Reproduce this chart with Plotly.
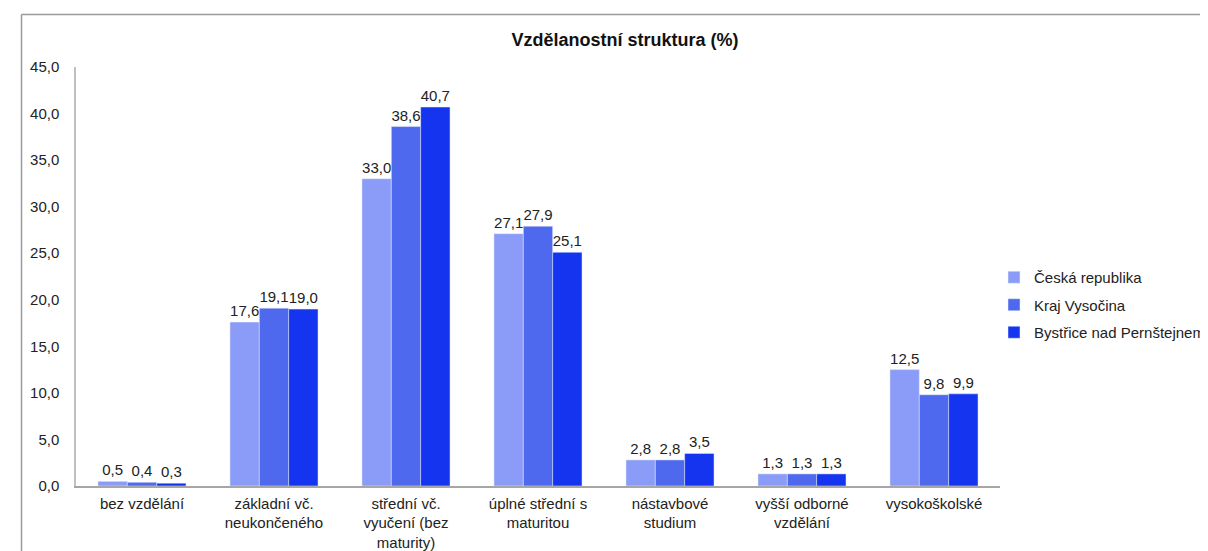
import plotly.graph_objects as go

categories = ["bez vzdělání", "základní vč.<br>neukončeného", "střední vč.<br>vyučení (bez<br>maturity)",
              "úplné střední s<br>maturitou", "nástavbové<br>studium", "vyšší odborné<br>vzdělání", "vysokoškolské"]
series_names = ["Česká republika", "Kraj Vysočina", "Bystřice nad Pernštejnem"]
ceska_republika = [0.5, 17.6, 33.0, 27.1, 2.8, 1.3, 12.5]
kraj_vysocina = [0.4, 19.1, 38.6, 27.9, 2.8, 1.3, 9.8]
bystrice = [0.3, 19.0, 40.7, 25.1, 3.5, 1.3, 9.9]
y_ticks = [0, 5, 10, 15, 20, 25, 30, 35, 40, 45]

colors = ["#8b9cf8", "#4f69ee", "#1534ef"]
font = "Liberation Sans, Arial, sans-serif"

def fmt(v):
    return f"{v:.1f}".replace(".", ",")

fig = go.Figure()
for name, vals, col in zip(series_names, [ceska_republika, kraj_vysocina, bystrice], colors):
    fig.add_trace(go.Bar(
        x=categories, y=vals, name=name, marker_color=col, legendgroup=name,
        text=[fmt(v) for v in vals], textposition="outside",
        textfont=dict(size=15, color="#222222", family=font),
        cliponaxis=False,
    ))

# the page has an 8px body margin; plot area on screen: x 76..1000, y 67..486
W, H = 924, 419
def px_x(p):
    return (p - 76) / W
def px_y(p):
    return (486 - p) / H

fig.update_layout(
    width=1200, height=543,
    margin=dict(l=68, r=208, t=59, b=65, autoexpand=False),
    paper_bgcolor="white", plot_bgcolor="white",
    barmode="group", bargap=0.333, bargroupgap=0,
    font=dict(family=font, size=15, color="#222222"),
    title=dict(text="<b>Vzdělanostní struktura (%)</b>", x=617 / 1200, xref="container", xanchor="center",
               y=1 - 32 / 543, yref="container", yanchor="middle",
               font=dict(size=18, color="#111111", family=font)),
    legend=dict(x=px_x(994), y=px_y(305), xanchor="left", yanchor="middle",
                font=dict(size=15, color="#222222"), itemwidth=30, tracegroupgap=5),
    showlegend=True,
    shapes=[
        dict(type="line", xref="paper", yref="paper", x0=px_x(21.5), x1=px_x(1215), y0=px_y(14.5), y1=px_y(14.5),
             line=dict(color="#9a9a9a", width=1.5)),
        dict(type="line", xref="paper", yref="paper", x0=px_x(21.5), x1=px_x(21.5), y0=px_y(14.5), y1=px_y(560),
             line=dict(color="#9a9a9a", width=1.5)),
    ],
)
fig.update_xaxes(showline=True, linecolor="#a6a6a6", linewidth=1.5, showgrid=False, ticks="", automargin=False,
                 tickfont=dict(size=15, color="#222222"), ticklabelstandoff=3)
fig.update_yaxes(range=[0, 45], tickvals=y_ticks, ticktext=[fmt(v) for v in y_ticks], automargin=False,
                 showline=True, linecolor="#c0c0c0", linewidth=1.5, showgrid=False, zeroline=False,
                 ticks="", ticklabelstandoff=12, tickfont=dict(size=15, color="#222222"))

fig.write_html("out.html")
